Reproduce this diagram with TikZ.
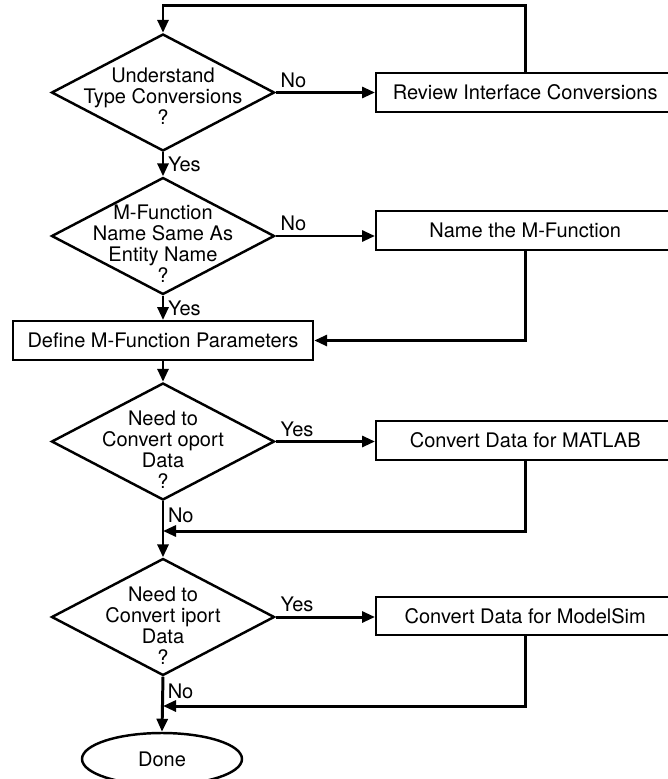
\documentclass[tikz,border=0pt]{standalone}
\usepackage{fontspec}
\setmainfont{TeX Gyre Heros}
\usetikzlibrary{shapes.geometric,arrows.meta}
% lifts the top of a diamond text so the lines sit a bit lower
\newcommand{\toppad}[1]{\rule{0pt}{#1}}
\begin{document}
\begin{tikzpicture}[
  every node/.style={font=\fontsize{11.4}{11.95}\selectfont},
  decision/.style={draw,diamond,aspect=1.9,line width=1.4pt,minimum width=4.46cm,minimum height=2.34cm,inner xsep=-0.24cm,inner ysep=-0.4cm,align=center},
  process/.style={draw,rectangle,line width=1.4pt,minimum height=0.77cm,inner sep=0pt},
  terminal/.style={draw,ellipse,line width=1.4pt,minimum width=3.2cm,minimum height=1.04cm},
  flow/.style={line width=1.7pt,-{Triangle[length=0.26cm,width=0.22cm]}},
  lbl/.style={inner sep=2pt}]
\useasboundingbox (0,0) rectangle (13.36,-15.58);
% main column
\node[decision] (conv) at (3.26,-1.85) {\toppad{0.43cm}Understand\\Type Conversions\\?};
\node[decision] (same) at (3.26,-4.72) {\toppad{0.59cm}M-Function\\Name Same As\\Entity Name\\?};
\node[process,minimum width=6cm] (params) at (3.26,-6.81) {Define M-Function Parameters};
\node[decision] (oport) at (3.26,-8.83) {\toppad{0.62cm}Need to\\Convert oport\\Data\\?};
\node[decision] (iport) at (3.26,-12.34) {\toppad{0.62cm}Need to\\Convert iport\\Data\\?};
\node[terminal] (done) at (3.24,-15.18) {Done};
% side boxes
\node[process,anchor=west,minimum width=5.96cm] (review) at (7.5,-1.85) {Review Interface Conversions};
\node[process,anchor=west,minimum width=5.96cm] (name) at (7.5,-4.61) {Name the M-Function};
\node[process,anchor=west,minimum width=5.96cm] (matlab) at (7.5,-8.81) {Convert Data for MATLAB};
\node[process,anchor=west,minimum width=5.96cm] (modelsim) at (7.5,-12.32) {Convert Data for ModelSim};
\coordinate (j1) at (3.26,-10.62);
\coordinate (j2) at (3.26,-14.12);
% connectors
\draw[flow] (conv.east) -- node[lbl,pos=0,above right] (no1) {No} (conv.east -| review.west);
\draw[flow] (review.north) -- ++(0,1.33) -| (conv.north);
\draw[flow] (conv.south) -- node[lbl,right] (yes1) {Yes} (same.north);
\draw[flow] (same.east) -- node[lbl,pos=0,above right] (no2) {No} (same.east -| name.west);
\draw[flow] (same.south) -- node[lbl,right] (yes2) {Yes} (params.north);
\draw[flow] (name.south) |- (params.east);
\draw[flow] (params.south) -- (oport.north);
\draw[flow] (oport.east) -- node[lbl,pos=0,above right] (yes3) {Yes} (oport.east -| matlab.west);
\draw[flow] (oport.south) -- node[lbl,pos=0.25,right] (no3) {No} (iport.north);
\draw[flow] (matlab.south) |- (j1);
\draw[flow] (iport.east) -- node[lbl,pos=0,above right] (yes4) {Yes} (iport.east -| modelsim.west);
\draw[flow] (iport.south) -- node[lbl,pos=0.26,right] (no4) {No} (done.north);
\draw[flow] (modelsim.south) |- (j2);
\end{tikzpicture}
\end{document}
